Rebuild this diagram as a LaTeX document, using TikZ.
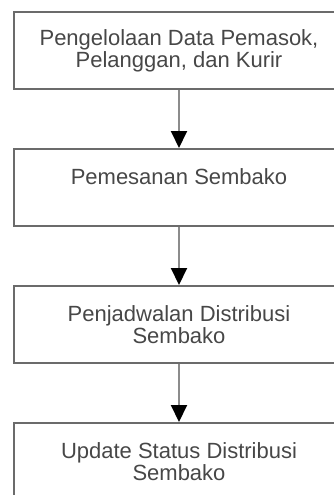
\documentclass[tikz,border=0pt]{standalone}
\usepackage{fontspec}
\setmainfont{Liberation Sans}
\usetikzlibrary{arrows.meta,positioning}

\begin{document}
\begin{tikzpicture}[
    ->,
    >={Triangle[width=16pt,length=17pt,color=black]},
    node distance=58pt,
    line width=2pt,
    every edge/.style={draw=black!45},
    proses/.style={
        draw=black!58, rectangle,
        minimum width=330pt, minimum height=77pt,
        inner sep=0pt, align=center,
        font=\fontsize{22}{22}\selectfont, text=black!72
    }
]
	\clip (0,0) rectangle (334pt,-495pt);

	\node[proses,anchor=north] (Data) at (179pt,-11pt) {Pengelolaan Data Pemasok,\\Pelanggan, dan Kurir};
	\node[proses] (Pesan) [below=of Data] {Pemesanan Sembako\\\mbox{}};
	\node[proses] (Jadwal) [below=of Pesan] {Penjadwalan Distribusi\\Sembako};
	\node[proses] (Status) [below=of Jadwal] {Update Status Distribusi\\Sembako};

	\path[->]
		(Data) edge (Pesan)
		(Pesan) edge (Jadwal)
		(Jadwal) edge (Status);
\end{tikzpicture}
\end{document}
